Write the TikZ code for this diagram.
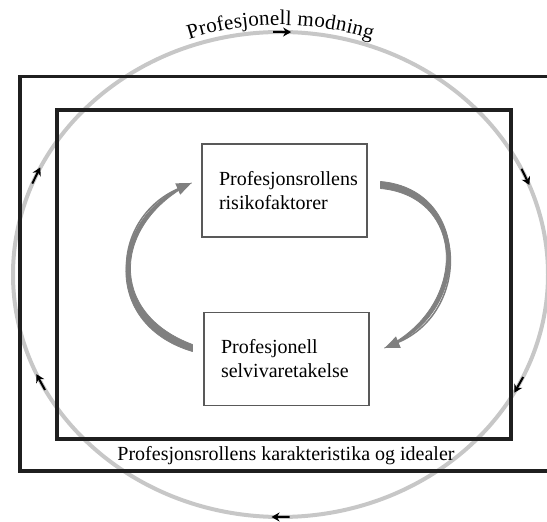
\documentclass[tikz,border=0pt]{standalone}
\usepackage{fontspec}
\setmainfont{Liberation Serif}
\usetikzlibrary{arrows.meta,decorations.markings,decorations.text}
\hyphenpenalty=10000

\newcommand{\turnmark}{\draw[black,line width=2pt,-{Stealth[length=8pt,width=9pt]}] (9pt,0) -- (-9pt,0);}

\tikzset{
  frame/.style={draw=black!88, line width=3.3pt},
  orbit/.style={draw=black!22, line width=4pt, postaction={decorate},
    decoration={markings,
      mark=at position 0.063 with {\turnmark},
      mark=at position 0.249 with {\turnmark},
      mark=at position 0.436 with {\turnmark},
      mark=at position 0.570 with {\turnmark},
      mark=at position 0.750 with {\turnmark},
      mark=at position 0.928 with {\turnmark}}},
  factor/.style={draw=black!65, line width=1.1pt, minimum width=165pt, minimum height=93pt,
    text width=131pt, inner xsep=17pt, align=left, font=\fontsize{20}{24}\selectfont},
  taper/.style={fill=black!50, draw=black!50, line width=0.8pt, line join=round},
  loop/.style={draw=black!50, line width=1.5pt, -{Triangle[length=15pt,width=12pt]}}
}

\begin{document}
\begin{tikzpicture}[x=1pt,y=1pt]
  \useasboundingbox (0,0) rectangle (547,522);
  \clip (0,0) rectangle (547,522);

  % circle of maturing
  \coordinate (ctr) at (280.5,247.5);
  \draw[orbit] (ctr) ellipse [x radius=267.5, y radius=242.5];
  \path[decorate, decoration={text along path, text align=center, raise=7pt,
      text={|\fontsize{21}{24}\selectfont|Profesjonell modning}}]
    ([shift={(113:267.5 and 242.5)}]ctr) arc [start angle=113, end angle=67, x radius=267.5, y radius=242.5];

  % frames
  \draw[frame] (20,51) rectangle (552,445.5);
  \draw[frame] (57,83) rectangle (511,412);
  \node[font=\fontsize{20}{24}\selectfont] (ideals) at (286,66) {Profesjonsrollens karakteristika og idealer};

  % the two factors
  \node[factor] (risk) at (284.5,331.5) {Profesjonsrollens\\risikofaktorer};
  \node[factor] (self) at (286.5,163) {Profesjonell\\selvivaretakelse};

  % cycle between them
  \filldraw[taper] ([xshift=13pt,yshift=9pt]risk.east) .. controls +(92,-8) and +(88,31) .. ([xshift=15pt,yshift=11pt]self.east)
    .. controls +(84,41) and +(86,-8) .. ([xshift=13pt,yshift=2pt]risk.east) -- cycle;
  \draw[loop] ([xshift=13pt,yshift=5.5pt]risk.east) .. controls +(90,-8) and +(86,36) .. ([xshift=15pt,yshift=11pt]self.east);
  \filldraw[taper] ([xshift=-11pt,yshift=14.5pt]self.west) .. controls +(-86,32) and +(-78,-40) .. ([xshift=-10pt,yshift=7.5pt]risk.west)
    .. controls +(-82,-30) and +(-94,28) .. ([xshift=-11pt,yshift=7.5pt]self.west) -- cycle;
  \draw[loop] ([xshift=-11pt,yshift=11pt]self.west) .. controls +(-90,30) and +(-80,-35) .. ([xshift=-10pt,yshift=7.5pt]risk.west);
\end{tikzpicture}
\end{document}
